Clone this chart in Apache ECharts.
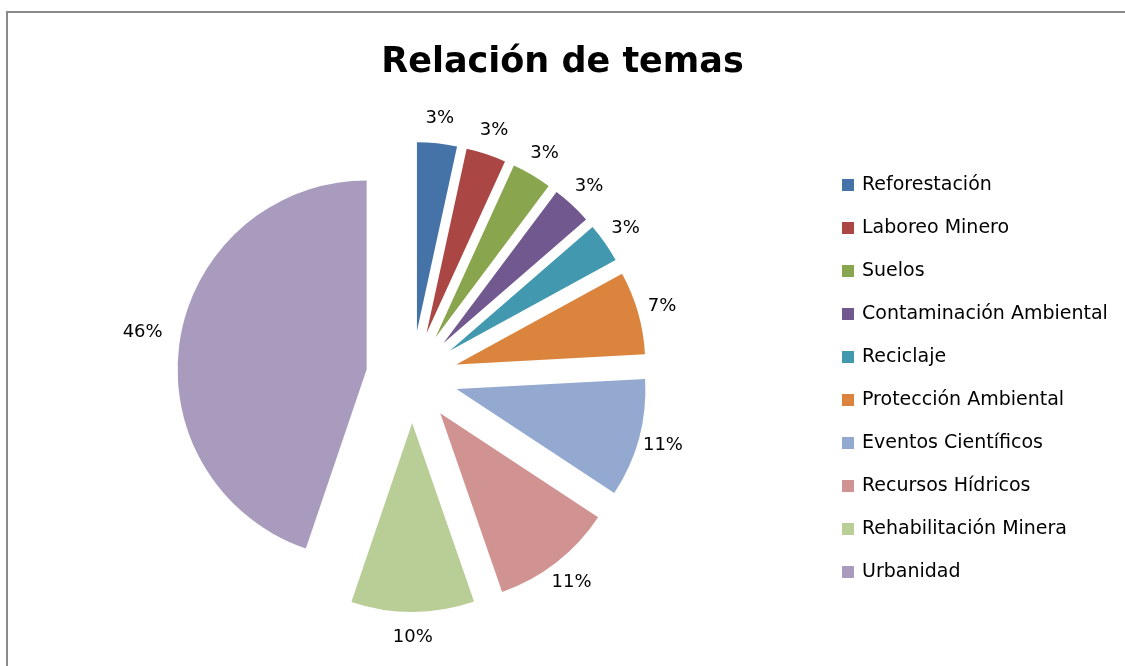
<!DOCTYPE html>
<html>
<head>
<meta charset="utf-8">
<script src="https://cdn.jsdelivr.net/npm/echarts@6/dist/echarts.min.js"></script>
<style>
  html, body { margin: 0; padding: 0; background: #fff; }
  #chart { width: 1125px; height: 666px; }
</style>
</head>
<body>
<div id="chart"></div>
<script>
// temas y tamaño de cada porción
const temas = [
  "Reforestación",
  "Laboreo Minero",
  "Suelos",
  "Contaminación Ambiental",
  "Reciclaje",
  "Protección Ambiental",
  "Eventos Científicos",
  "Recursos Hídricos",
  "Rehabilitación Minera",
  "Urbanidad",
];
const valores = [3.4, 3.4, 3.4, 3.4, 3.4, 7.1, 10.1, 10.4, 10.5, 44.7];
// etiquetas tal como aparecen en el gráfico
const etiquetas = ["3%", "3%", "3%", "3%", "3%", "7%", "11%", "11%", "10%", "46%"];
const colores = [
  "#4572A7", "#AA4643", "#89A54E", "#71588F", "#4198AF",
  "#DB843D", "#93A9CF", "#D19392", "#B9CD96", "#A99BBD",
];

const chart = echarts.init(document.getElementById("chart"));
const fuente = "DejaVu Sans";

const option = {
  animation: false,
  color: colores,
  graphic: [
    {
      type: "rect",
      shape: { x: 7, y: 12, width: 1200, height: 700 },
      style: { fill: "none", stroke: "#8a8a8a", lineWidth: 2 },
      silent: true,
    },
  ],
  title: {
    text: "Relación de temas",
    left: "center",
    top: 40,
    textStyle: {
      fontFamily: "DejaVu Sans",
      fontWeight: "bold",
      fontSize: 35,
      color: "#000",
    },
  },
  legend: {
    orient: "vertical",
    left: 837,
    top: 170,
    icon: "rect",
    itemWidth: 12,
    itemHeight: 12,
    itemGap: 23,
    selectedMode: false,
    textStyle: {
      fontFamily: fuente,
      fontSize: 19,
      lineHeight: 20,
      color: "#000",
      padding: [0, 0, 0, 3],
    },
    data: temas,
  },
  series: [
    {
      type: "pie",
      center: [412, 377],
      radius: 189,
      startAngle: 90,
      clockwise: true,
      selectedMode: "multiple",
      selectedOffset: 46,
      avoidLabelOverlap: false,
      emphasis: { disabled: true },
      label: {
        show: true,
        position: "outside",
        alignTo: "none",
        distanceToLabelLine: 0,
        fontFamily: fuente,
        fontSize: 18,
        color: "#000",
        formatter: (p) => etiquetas[p.dataIndex],
      },
      labelLine: { show: false, length: 25, length2: 0 },
      labelLayout: function () {
        return { align: "center", verticalAlign: "middle" };
      },
      data: temas.map((t, i) => ({
        name: t,
        value: valores[i],
        selected: true,
        labelLine: i === 9 ? { length: 38 } : undefined,
      })),
    },
  ],
};

chart.setOption(option);
</script>
</body>
</html>
